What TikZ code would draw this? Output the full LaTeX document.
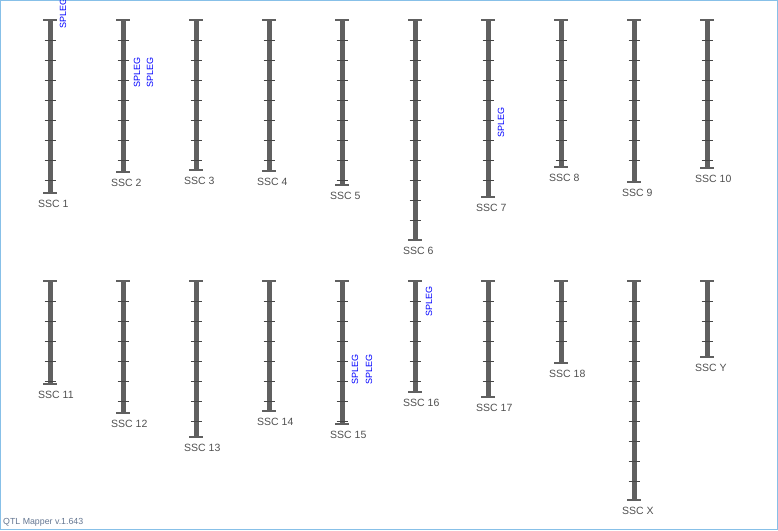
\documentclass[tikz,border=0pt]{standalone}
\usepackage{fontspec}
\setmainfont{Liberation Sans}
\usepackage{tikz}
\usetikzlibrary{positioning}
\definecolor{chrgray}{RGB}{96,96,96}
\definecolor{tickgray}{RGB}{70,70,70}
\definecolor{lblgray}{RGB}{80,80,80}
\definecolor{qtlblue}{RGB}{0,0,255}
\definecolor{framebl}{RGB}{135,192,232}
\definecolor{vergray}{RGB}{100,118,145}
\tikzset{
  chrbar/.style={draw=chrgray, line width=5pt},
  chrcap/.style={draw=chrgray, line width=1.8pt},
  chrtick/.style={draw=tickgray, line width=1.2pt},
  chrname/.style={font=\fontsize{10.5}{12}\selectfont, text=lblgray,
                  inner sep=0pt, anchor=west},
  % QTL tags, written upwards from their position
  qtl/.style={font=\fontsize{9}{10}\selectfont, text=qtlblue, rotate=90,
              anchor=west, inner sep=0pt},
}

\begin{document}
\begin{tikzpicture}[x=1pt, y=-1pt,
        ver/.style={font=\fontsize{8.8}{10}\selectfont, text=vergray,
                    inner sep=0pt, anchor=west}]
  \useasboundingbox (0,0) rectangle (778,530);
  \draw[draw=framebl, line width=1pt] (0.5,0.5) rectangle (777.5,529.5);
  % chromosomes: x / top / bottom / name
  \foreach \x/\t/\b/\n in {50/20/193/1, 123/20/172/2, 196/20/170/3, 269/20/171/4,
      342/20/185/5, 415/20/240/6, 488/20/197/7, 561/20/167/8, 634/20/182/9,
      707/20/168/10, 50/281/384/11, 123/281/413/12, 196/281/437/13,
      269/281/411/14, 342/281/424/15, 415/281/392/16, 488/281/397/17,
      561/281/363/18, 634/281/500/X, 707/281/357/Y}{
    \pgfmathtruncatemacro\nt{(\b-\t-3)/20}
    \draw[chrbar] (\x,\t) -- (\x,\b);
    \draw[chrcap] (\x-7,\t) -- (\x+7,\t);
    \draw[chrcap] (\x-7,\b) -- (\x+7,\b);
    \foreach \k in {1,...,\nt}
      \draw[chrtick] (\x-5.5,\t+20*\k+0.5) -- (\x+5.5,\t+20*\k+0.5);
    \node[chrname] (ssc\n) at (\x-12,\b+11) {SSC \n};
  }
  % QTL labels
  \node[qtl] (qtl1) at (63,29) {SPLEG};
  \node[qtl] (qtl2a) at (137,88) {SPLEG};
  \node[qtl] (qtl2b) at (150,88) {SPLEG};
  \node[qtl] (qtl7) at (501,138) {SPLEG};
  \node[qtl] (qtl15a) at (355,385) {SPLEG};
  \node[qtl] (qtl15b) at (369,385) {SPLEG};
  \node[qtl] (qtl16) at (429,317) {SPLEG};
  \node[ver] (version) at (3,522) {QTL Mapper v.1.643};
\end{tikzpicture}
\end{document}
